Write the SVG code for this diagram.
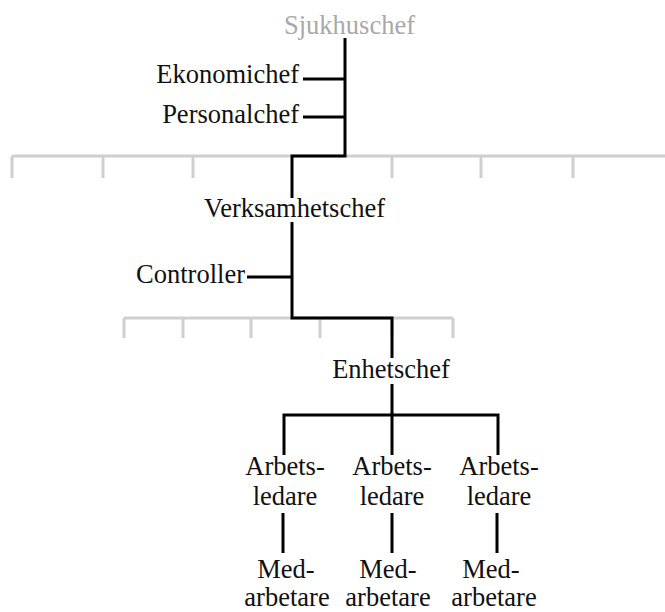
<svg xmlns="http://www.w3.org/2000/svg" width="665" height="612" viewBox="0 0 665 612">
<style>
text{font-family:"Liberation Serif","Times New Roman",Times,serif;font-size:26.5px;fill:#111}
.c{text-anchor:middle}
.e{text-anchor:end}
.gray{fill:#a9a9a9}
.g{stroke:#cfcfcf;stroke-width:3;fill:none}
.k{stroke:#000;stroke-width:3;fill:none}
</style>
<rect width="665" height="612" fill="#fff"/>
<g id="grid">
<path class="g" d="M12,156H665M12,156V178M103,156V178M193,156V178M392,156V178M481,156V178M573,156V178"/>
<path class="g" d="M124,318H453M124,318V338M183,318V338M251,318V338M320,318V338M392,318V338M453,318V338"/>
</g>
<g id="connectors">
<path class="k" d="M345,38V156H292V198"/>
<path class="k" d="M303,79H345M303,117H345"/>
<path class="k" d="M292,222V318H392V358"/>
<path class="k" d="M247,277H292"/>
<path class="k" d="M392,384V455M284,455V415H498V455"/>
<path class="k" d="M283,513V553M392,513V553M497,513V553"/>
</g>
<g id="nodes" font-family="'Liberation Serif', 'Times New Roman', serif">
<g id="sjukhuschef"><text class="c gray" x="349.5" y="34">Sjukhuschef</text></g>
<g id="ekonomichef"><text class="e" x="299" y="83">Ekonomichef</text></g>
<g id="personalchef"><text class="e" x="299" y="123">Personalchef</text></g>
<g id="verksamhetschef"><text class="c" x="294.5" y="217">Verksamhetschef</text></g>
<g id="controller"><text class="e" x="245" y="283">Controller</text></g>
<g id="enhetschef"><text class="c" x="391" y="378">Enhetschef</text></g>
<g id="arbetsledare1"><text class="c" x="285" y="475">Arbets-</text><text class="c" x="285" y="505">ledare</text></g>
<g id="arbetsledare2"><text class="c" x="392" y="475">Arbets-</text><text class="c" x="392" y="505">ledare</text></g>
<g id="arbetsledare3"><text class="c" x="499" y="475">Arbets-</text><text class="c" x="499" y="505">ledare</text></g>
<g id="medarbetare1"><text class="c" x="286" y="578">Med-</text><text class="c" x="287" y="606">arbetare</text></g>
<g id="medarbetare2"><text class="c" x="388" y="578">Med-</text><text class="c" x="388" y="606">arbetare</text></g>
<g id="medarbetare3"><text class="c" x="491" y="578">Med-</text><text class="c" x="494" y="606">arbetare</text></g>
</g>
</svg>
